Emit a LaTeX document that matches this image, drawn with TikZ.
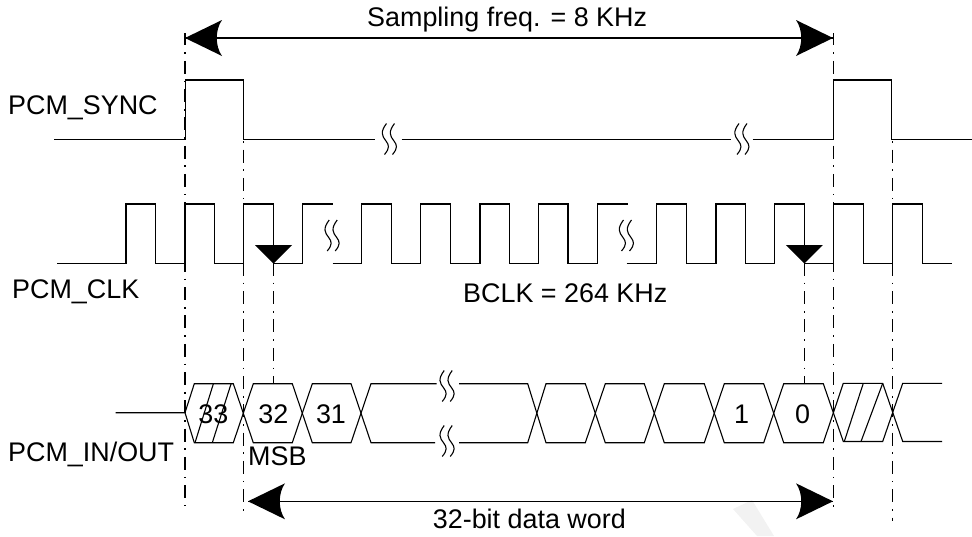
\documentclass[tikz,border=0pt]{standalone}
\usepackage{fontspec}
\setmainfont{Liberation Sans}
\newcommand{\brk}[2]{%
  \begin{scope}[shift={(#1,#2)}]
    \draw[thin line] (-3.5,-15.5) .. controls (-10,-7) and (-8,-3) .. (-4,2) .. controls (-1,6) and (0,9) .. (-5.5,15.5);
    \draw[thin line] (4.5,-15.5) .. controls (-2,-7) and (0,-3) .. (4,2) .. controls (7,6) and (8,9) .. (2.5,15.5);
  \end{scope}}
\newcommand{\biglefttip}[1]{%
  \begin{scope}[shift={(#1)}]
    \fill (0,0) -- (37,-18) .. controls (30,-8) and (30,8) .. (37,18) -- cycle;
  \end{scope}}
\newcommand{\bigrighttip}[1]{%
  \begin{scope}[shift={(#1)}]
    \fill (0,0) -- (-37,-18) .. controls (-30,-8) and (-30,8) .. (-37,18) -- cycle;
  \end{scope}}
\newcommand{\downtip}[1]{%
  \fill (#1,263.5) -- (#1-18.5,245) -- (#1+18.5,245) -- cycle;}
\tikzset{
  sig/.style={line width=1.5pt,line join=miter},
  bus/.style={line width=1.1pt,line join=miter},
  thin line/.style={line width=1.1pt},
  guide/.style={line width=1.3pt,dash pattern=on 13pt off 6.8pt on 1.7pt off 6.8pt},
  lbl/.style={inner sep=0pt,anchor=base west,font=\fontsize{26.9}{30}\selectfont},
  midlbl/.style={inner sep=0pt,anchor=base,font=\fontsize{26.9}{30}\selectfont},
}
\begin{document}
\begin{tikzpicture}[x=1pt,y=-1pt]
\useasboundingbox (0,0) rectangle (972,536);
% faint background mark
\fill[black!5] (733,509) -- (752,500) -- (774,536) -- (757,536) -- cycle;
% labels
\node[lbl] (tSample) at (367,26.7) {Sampling freq. = 8 KHz};
\node[lbl] (tSync) at (8,114) {PCM\_SYNC};
\node[lbl] (tClk) at (12,298.7) {PCM\_CLK};
\node[lbl] (tBclk) at (463,302) {BCLK = 264 KHz};
\node[lbl] (tData) at (8,461.7) {PCM\_IN/OUT};
\node[lbl] (tMsb) at (248,465.3) {MSB};
\node[lbl] (tWord) at (432.7,528) {32-bit data word};
\node[midlbl] (b33) at (213.3,423) {33};
\node[midlbl] (b32) at (273.3,423) {32};
\node[midlbl] (b31) at (331,423) {31};
\node[midlbl] (b1) at (741.7,423) {1};
\node[midlbl] (b0) at (802.7,423) {0};
% guides
\draw[guide,dash phase=0.55pt] (185,33) -- (185,506);
\draw[guide,dash phase=18.15pt] (243.3,139.5) -- (243.3,511);
\draw[guide,dash phase=0.65pt] (273.5,263.5) -- (273.5,384);
\draw[guide,dash phase=0.65pt] (804.3,263.5) -- (804.3,384);
\draw[guide,dash phase=0.55pt] (833.3,33) -- (833.3,507);
\draw[guide,dash phase=18.15pt] (892.3,139.5) -- (892.3,521);
% top and bottom span arrows
\coordinate (topL) at (185,38);
\coordinate (topR) at (833,38);
\coordinate (botL) at (248,501.3);
\coordinate (botR) at (833,501.3);
\draw[sig] (topL) -- (topR);
\draw[sig] (botL) -- (botR);
\biglefttip{topL}
\bigrighttip{topR}
\biglefttip{botL}
\bigrighttip{botR}
% PCM_SYNC
\draw[sig] (54,139.5) -- (185.5,139.5) -- (185.5,80) -- (243.5,80) -- (243.5,139.5) -- (375,139.5);
\draw[sig] (401.7,139.5) -- (731,139.5);
\draw[sig] (752.7,139.5) -- (833.3,139.5) -- (833.3,80) -- (891.7,80) -- (891.7,139.5) -- (972,139.5);
\brk{390}{139}
\brk{742.5}{139}
% PCM_CLK
\draw[sig] (57,263.5) -- (126,263.5) |- (155.5,204) |- (185,263.5) |- (214.5,204) |- (243.5,263.5) |- (273.5,204) |- (302.7,263.5) |- (332.7,204);
\draw[sig] (332.7,263.5) -- (361.7,263.5) |- (391.3,204) |- (420.7,263.5) |- (450.3,204) |- (480,263.5) |- (509.3,204) |- (538.7,263.5) |- (568,204) |- (597.7,263.5) |- (627.7,204);
\draw[sig] (626.7,263.5) -- (656.7,263.5) |- (686.3,204) |- (716,263.5) |- (745.3,204) |- (774.7,263.5) |- (804.3,204) |- (833.3,263.5) |- (863.3,204) |- (892.7,263.5) |- (922.7,204) |- (952,263.5);
\brk{332.7}{235.5}
\brk{627}{235.5}
\downtip{273.5}
\downtip{804.3}
% PCM_IN/OUT
\draw[bus] (115.7,412.7) -- (185,412.7) -- (194.3,383.7) -- (233.3,383.7) -- (253.3,442.7) -- (292.3,442.7) -- (312.3,383.7) -- (351,383.7) -- (371,442.7) -- (435,442.7);
\draw[bus] (185,412.7) -- (194.3,442.7) -- (233.3,442.7) -- (253.3,383.7) -- (292.3,383.7) -- (312.3,442.7) -- (351,442.7) -- (371,383.7) -- (436.7,383.7);
\draw[bus] (213.3,384) -- (195,442.7);
\draw[bus] (231,384) -- (212.3,442.7);
\draw[bus] (459,383.7) -- (527.7,383.7) -- (546,442.7) -- (585.3,442.7) -- (605.3,383.7) -- (644.3,383.7) -- (664.3,442.7) -- (704.3,442.7) -- (724.3,383.7) -- (763.7,383.7) -- (783.7,442.7) -- (823.3,442.7) -- (843.3,383.3) -- (882.7,383.3) -- (902.7,441.5) -- (942,441.5);
\draw[bus] (459,442.7) -- (527.7,442.7) -- (546,383.7) -- (585.3,383.7) -- (605.3,442.7) -- (644.3,442.7) -- (664.3,383.7) -- (704.3,383.7) -- (724.3,442.7) -- (763.7,442.7) -- (783.7,383.7) -- (823.3,383.7) -- (843.3,441.5) -- (882.7,441.5) -- (902.7,383.3) -- (942,383.3);
\draw[bus] (863.3,383.3) -- (844.3,441.5);
\draw[bus] (882.7,383.3) -- (861,441.5);
\brk{447.7}{386}
\brk{447.7}{441}
\end{tikzpicture}
\end{document}
